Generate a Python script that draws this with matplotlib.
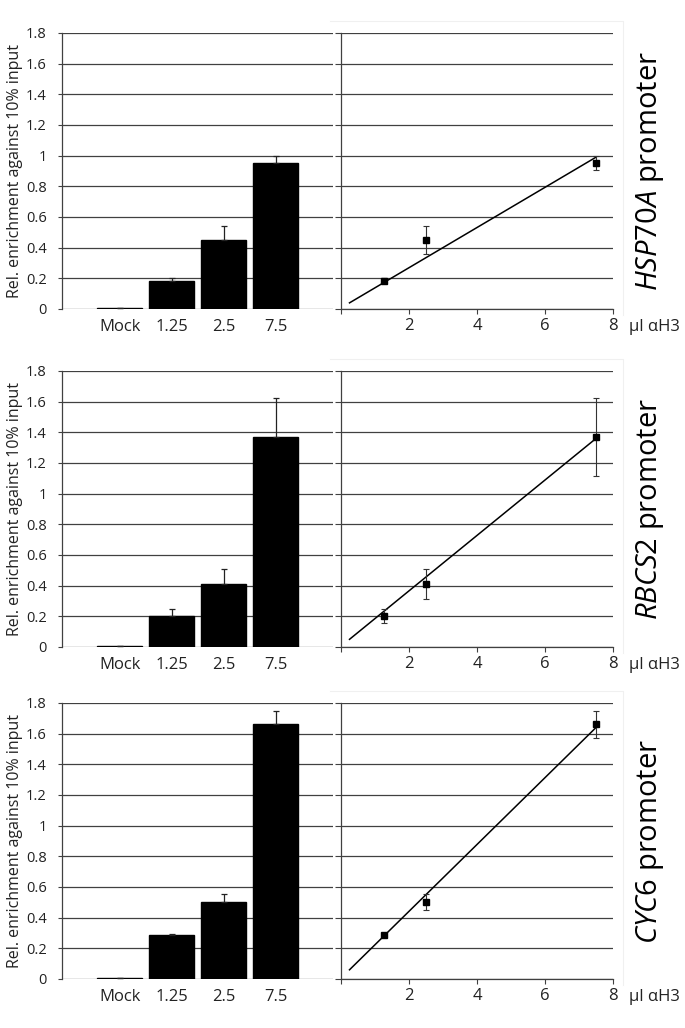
import matplotlib
matplotlib.use('Agg')
import matplotlib.pyplot as plt
from matplotlib.lines import Line2D

plt.rcParams['font.family'] = ['Open Sans', 'DejaVu Sans']
plt.rcParams['mathtext.fontset'] = 'custom'
plt.rcParams['mathtext.rm'] = 'Open Sans'
plt.rcParams['mathtext.it'] = 'Open Sans:italic'

# categories
doses = ['Mock', '1.25', '2.5', '7.5']
dose_ul = [1.25, 2.5, 7.5]
y_ticks = [0, 0.2, 0.4, 0.6, 0.8, 1, 1.2, 1.4, 1.6, 1.8]
y_tick_labels = ['0', '0.2', '0.4', '0.6', '0.8', '1', '1.2', '1.4', '1.6', '1.8']
x_ticks = [0, 2, 4, 6, 8]
x_tick_labels = ['', '2', '4', '6', '8']

# values
hsp70a_mean = [0.004, 0.185, 0.45, 0.95]
hsp70a_err = [0, 0.015, 0.09, 0.046]
rbcs2_mean = [0.004, 0.20, 0.41, 1.37]
rbcs2_err = [0, 0.046, 0.10, 0.255]
cyc6_mean = [0.004, 0.29, 0.50, 1.66]
cyc6_err = [0, 0.005, 0.053, 0.09]

# trend line ends (x, y)
hsp70a_trend_x = [0.25, 7.5]
hsp70a_trend_y = [0.04, 0.99]
rbcs2_trend_x = [0.25, 7.5]
rbcs2_trend_y = [0.05, 1.36]
cyc6_trend_x = [0.25, 7.5]
cyc6_trend_y = [0.06, 1.64]

rows = [
    ('HSP70A', hsp70a_mean, hsp70a_err, hsp70a_trend_x, hsp70a_trend_y),
    ('RBCS2', rbcs2_mean, rbcs2_err, rbcs2_trend_x, rbcs2_trend_y),
    ('CYC6', cyc6_mean, cyc6_err, cyc6_trend_x, cyc6_trend_y),
]

W, H = 685, 1028
fig = plt.figure(figsize=(W / 100, H / 100), dpi=100)

GRID = '#404040'
TXT = '#222222'
row_tops = [33, 371, 703]
row_h = 276

for (gene, mean, err, tx, ty), top in zip(rows, row_tops):
    bottom = 1 - (top + row_h) / H

    # faint chart-area frame (top and right edge) of the right panel
    fx = [330 / W, 623 / W, 623 / W]
    fy = [1 - (top - 12) / H, 1 - (top - 12) / H, 1 - (top + row_h + 6) / H]
    fig.lines.append(Line2D(fx, fy, transform=fig.transFigure, color='#f0f0f0', linewidth=0.8))

    ax = fig.add_axes([62 / W, bottom, 271 / W, row_h / H])
    ax2 = fig.add_axes([341 / W, bottom, 272 / W, row_h / H])
    ax2.patch.set_alpha(0)

    # bar chart
    pos = range(len(doses))
    ax.bar(pos, mean, width=0.865, color='black', edgecolor='black', zorder=3)
    ax.errorbar(pos, mean, yerr=[[0] * len(err), err], fmt='none',
                ecolor=TXT, elinewidth=0.9, capsize=2.5, capthick=0.9, zorder=4)
    ax.set_xlim(-1.115, 4.1)
    ax.set_ylim(0, 1.8)
    ax.set_yticks(y_ticks)
    ax.set_yticklabels(y_tick_labels)
    ax.set_xticks(list(pos))
    ax.set_xticklabels(doses)
    ax.tick_params(axis='y', length=3, width=0.8, color=GRID, pad=8, labelsize=10.5, labelcolor=TXT)
    ax.tick_params(axis='x', length=0, pad=7, labelsize=12, labelcolor=TXT)
    ax.grid(axis='y', color=GRID, linewidth=0.9, zorder=0)
    ax.set_axisbelow(True)
    for s in ['top', 'right', 'bottom']:
        ax.spines[s].set_visible(False)
    ax.spines['left'].set_color(GRID)
    ax.spines['left'].set_linewidth(0.9)
    ax.set_ylabel('Rel. enrichment against 10% input', fontsize=11.5, color=TXT, labelpad=2)

    # dose response
    ax2.plot(tx, ty, color='black', linewidth=1.1, zorder=3)
    ax2.errorbar(dose_ul, mean[1:], yerr=err[1:], fmt='s', color='black',
                 markersize=5, ecolor='#333333', elinewidth=0.8, capsize=2.5,
                 capthick=0.8, zorder=4)
    ax2.set_xlim(0, 8)
    ax2.set_ylim(0, 1.8)
    ax2.set_yticks(y_ticks)
    ax2.set_yticklabels([])
    ax2.set_xticks(x_ticks)
    ax2.set_xticklabels(x_tick_labels)
    ax2.tick_params(axis='y', length=4.5, width=0.8, color=GRID)
    ax2.tick_params(axis='x', length=3.5, width=0.8, color=GRID, pad=3, labelsize=12, labelcolor=TXT)
    ax2.grid(axis='y', color=GRID, linewidth=0.9, zorder=0)
    ax2.set_axisbelow(True)
    for s in ['top', 'right']:
        ax2.spines[s].set_visible(False)
    for s in ['left', 'bottom']:
        ax2.spines[s].set_color(GRID)
        ax2.spines[s].set_linewidth(0.9)
    ax2.annotate('µl αH3', xy=(1, 0), xycoords='axes fraction', xytext=(16, -18),
                 textcoords='offset pixels', ha='left', va='center', fontsize=12, color=TXT)

    fig.text(650 / W, 1 - (top + row_h / 2) / H, r'$\mathit{' + gene + '}$ promoter',
             rotation=90, ha='center', va='center', fontsize=21, color='black')

fig.savefig('out.png', dpi=100)
